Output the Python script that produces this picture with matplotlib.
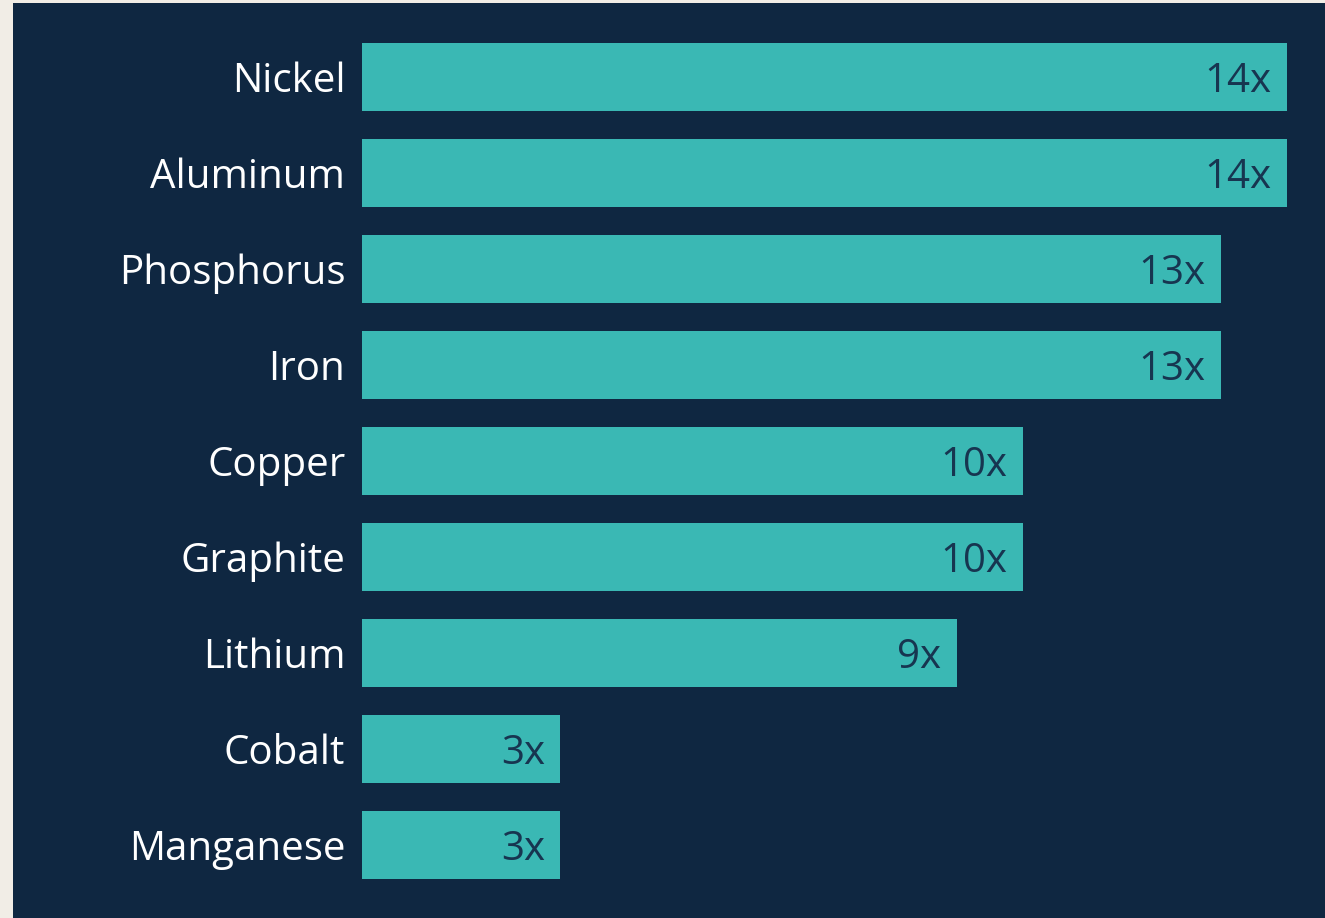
import matplotlib.pyplot as plt
from matplotlib.patches import Rectangle

minerals = ["Nickel", "Aluminum", "Phosphorus", "Iron", "Copper",
            "Graphite", "Lithium", "Cobalt", "Manganese"]
growth = [14, 14, 13, 13, 10, 10, 9, 3, 3]
value_labels = ["14x", "14x", "13x", "13x", "10x", "10x", "9x", "3x", "3x"]

NAVY = "#0f2741"
TEAL = "#3ab8b4"
BEIGE = "#f1ede6"

plt.rcParams["font.family"] = ["Open Sans", "DejaVu Sans"]

W, H = 1325, 918
fig = plt.figure(figsize=(W / 100, H / 100), dpi=100, facecolor=BEIGE)

# dark panel behind the chart
fig.patches.append(Rectangle((13 / W, 0), 1 - 13 / W, 1 - 3 / H,
                             transform=fig.transFigure, facecolor=NAVY,
                             edgecolor="none", zorder=-10))

ax = fig.add_axes([362 / W, 25 / H, (1287 - 362) / W, (893 - 29) / H])
ax.set_facecolor("none")

ypos = list(range(len(minerals)))
ax.barh(ypos, growth, height=0.71, color=TEAL, edgecolor="none")

ax.set_xlim(0, 14)
ax.set_ylim(len(minerals) - 0.5, -0.5)

for y, v, lab in zip(ypos, growth, value_labels):
    ax.annotate(lab, (v, y), xytext=(-11, 0), textcoords="offset points",
                ha="right", va="center_baseline", fontsize=29,
                color="#173550")

ax.set_yticks(ypos)
ax.set_yticklabels(minerals, fontsize=29, color="white")
ax.tick_params(axis="y", length=0, pad=12)
ax.set_xticks([])
for s in ax.spines.values():
    s.set_visible(False)

fig.savefig("out.png", dpi=100, facecolor=BEIGE)
